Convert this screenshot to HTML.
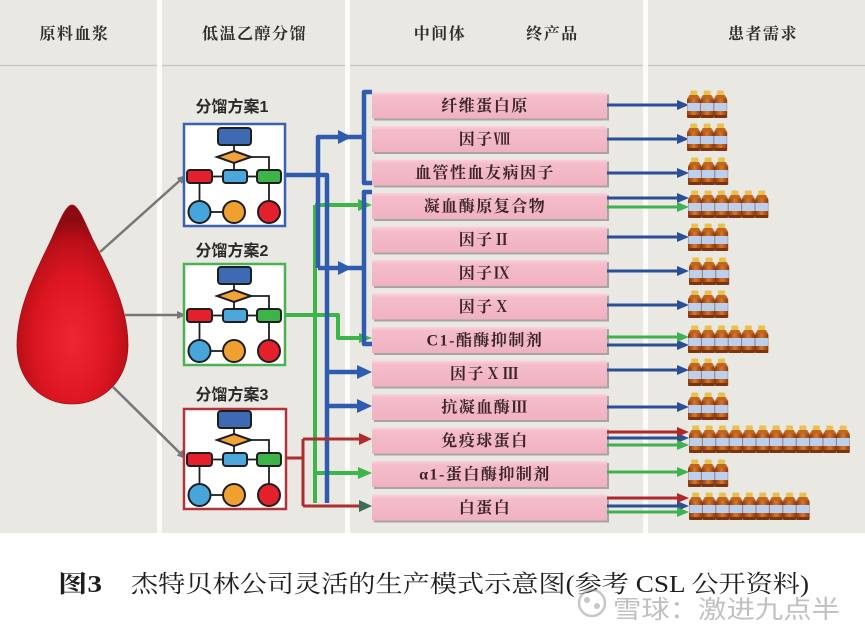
<!DOCTYPE html>
<html><head><meta charset="utf-8"><style>
html,body{margin:0;padding:0;background:#fff;}
svg{display:block;}
.hd{font-family:"Liberation Serif","Noto Serif CJK SC",serif;font-weight:700;font-size:16px;fill:#2e2e2e;letter-spacing:1.5px;}
.pk{font-family:"Liberation Serif","Noto Serif CJK SC",serif;font-weight:700;font-size:16px;fill:#3b2529;letter-spacing:1.5px;}
.lb{font-family:"Liberation Sans","Noto Sans CJK SC",sans-serif;font-weight:700;font-size:16px;fill:#2a2a2a;}
.cap{font-family:"Liberation Serif","Noto Serif CJK SC",serif;font-size:24px;fill:#1e1e1e;}
</style></head><body>
<svg width="865" height="630" viewBox="0 0 865 630" xmlns="http://www.w3.org/2000/svg">
<defs>
  <radialGradient id="drop" cx="0.5" cy="0.68" r="0.6">
    <stop offset="0" stop-color="#ee2633"/>
    <stop offset="0.55" stop-color="#dc1621"/>
    <stop offset="0.85" stop-color="#b80f18"/>
    <stop offset="1" stop-color="#8c0b12"/>
  </radialGradient>
  <linearGradient id="pkg" x1="0" y1="0" x2="0" y2="1">
    <stop offset="0" stop-color="#f9d3dc"/>
    <stop offset="0.15" stop-color="#f4bdca"/>
    <stop offset="1" stop-color="#f0b2c1"/>
  </linearGradient>
  <linearGradient id="bgr" x1="0" y1="0" x2="1" y2="0">
    <stop offset="0" stop-color="#8a3a10"/>
    <stop offset="0.5" stop-color="#d9782c"/>
    <stop offset="1" stop-color="#8a3a10"/>
  </linearGradient>
  <pattern id="bt" patternUnits="userSpaceOnUse" width="13.4" height="29">
    <rect x="3.2" y="0.5" width="7" height="5" rx="1" fill="#e8c050"/>
    <path d="M2.5,5 L10.9,5 L13.4,9 L0,9 Z" fill="#c0661e"/>
    <rect x="0" y="8.5" width="13.4" height="19.5" rx="2" fill="url(#bgr)"/>
    <rect x="0.3" y="13" width="12.8" height="8" fill="#bcd0ee"/>
    <rect x="0.3" y="25" width="12.8" height="3" fill="#7a3410"/>
  </pattern>
  <marker id="ga" markerUnits="userSpaceOnUse" markerWidth="10" markerHeight="10" refX="9" refY="5" orient="auto">
    <path d="M0,1 L9,5 L0,9 Z" fill="#777"/>
  </marker>
  <g id="fc">
    <g stroke="#1e1e1e" stroke-width="1.8" fill="none">
      <path d="M50,21 V27"/>
      <path d="M67,33 H85 V46"/>
      <path d="M50,39 V46"/>
      <path d="M28,52.5 H39"/>
      <path d="M63,52.5 H73"/>
      <path d="M15.5,59 V77"/>
      <path d="M85,59 V77"/>
      <path d="M26,88 H39"/>
    </g>
    <g stroke="#1e1e1e" stroke-width="2">
      <rect x="34" y="4" width="33" height="17" rx="3" fill="#3d6ab3"/>
      <polygon points="50,27 67,33 50,39 33,33" fill="#f2a33a"/>
      <rect x="3" y="46" width="25" height="13" rx="3" fill="#e3202c"/>
      <rect x="39" y="46" width="24" height="13" rx="3" fill="#4aa8dc"/>
      <rect x="73" y="46" width="24" height="13" rx="3" fill="#3cb44a"/>
      <circle cx="15.5" cy="88" r="11" fill="#46a6dc"/>
      <circle cx="50" cy="88" r="11" fill="#f0a030"/>
      <circle cx="85" cy="88" r="11" fill="#e3202c"/>
    </g>
  </g>
</defs>

<rect x="0" y="0" width="865" height="533" fill="#eae8e3"/>
<rect x="0" y="533" width="865" height="97" fill="#ffffff"/>
<line x1="0" y1="65.5" x2="865" y2="65.5" stroke="#c6c4bf" stroke-width="1.2"/>
<rect x="157" y="0" width="5" height="533" fill="#fbfbfa"/>
<rect x="345" y="0" width="5" height="533" fill="#fbfbfa"/>
<rect x="643" y="0" width="5" height="533" fill="#fbfbfa"/>

<text class="hd" x="74.5" y="39" text-anchor="middle">原料血浆</text>
<text class="hd" x="254.5" y="39" text-anchor="middle">低温乙醇分馏</text>
<text class="hd" x="440" y="39" text-anchor="middle">中间体</text>
<text class="hd" x="552.5" y="39" text-anchor="middle">终产品</text>
<text class="hd" x="763" y="39" text-anchor="middle">患者需求</text>

<path d="M72,205 C66,205 60,220 52,238 C38,268 17,305 17,345 C17,381 42,404 72,404 C102,404 128,381 128,345 C128,305 107,268 92,238 C84,220 78,205 72,205 Z" fill="url(#drop)" stroke="#a0101a" stroke-width="0.8"/>

<g stroke="#777" stroke-width="2.5" fill="none">
  <line x1="100" y1="252" x2="186" y2="175" marker-end="url(#ga)"/>
  <line x1="125" y1="315" x2="186" y2="315" marker-end="url(#ga)"/>
  <line x1="113" y1="387" x2="186" y2="459" marker-end="url(#ga)"/>
</g>

<text class="lb" x="232" y="112" text-anchor="middle">分馏方案1</text>
<rect x="184" y="124" width="101" height="102" fill="#ffffff" stroke="#3a62ad" stroke-width="2.5"/>
<use href="#fc" x="184" y="124"/>
<text class="lb" x="232" y="256" text-anchor="middle">分馏方案2</text>
<rect x="184" y="264" width="101" height="101" fill="#ffffff" stroke="#4cb054" stroke-width="2.5"/>
<use href="#fc" x="184" y="263"/>
<text class="lb" x="232" y="400" text-anchor="middle">分馏方案3</text>
<rect x="184" y="409" width="102" height="100" fill="#ffffff" stroke="#b0343a" stroke-width="2.5"/>
<use href="#fc" x="184" y="407"/>

<g stroke="#3db54a" stroke-width="4" fill="none" stroke-linejoin="round">
  <path d="M315,205 V503"/>
  <path d="M315,205 H360"/>
  <path d="M285,315 H338 V338 H360"/>
  <path d="M315,473 H360"/>
</g>
<circle cx="315" cy="315" r="3" fill="#3db54a"/>
<circle cx="362" cy="338" r="3" fill="#3db54a"/>
<g fill="#3db54a">
  <polygon points="358,199 372,205 358,211"/>
  <polygon points="359,333 372,338 359,343"/>
  <polygon points="358,467 372,473 358,479"/>
</g>

<g stroke="#2f5cae" stroke-width="4.5" fill="none" stroke-linejoin="round">
  <path d="M285,175 H327 V503"/>
  <path d="M318,268 V137 H364"/>
  <path d="M318,268 H364"/>
  <path d="M372,92 H364 V183 H372"/>
  <path d="M372,192 H364 V344 H372"/>
  <path d="M327,372 H360"/>
  <path d="M327,406 H360"/>
</g>
<g fill="#2f5cae">
  <polygon points="338,130 352,137 338,144"/>
  <polygon points="338,261 352,268 338,275"/>
  <polygon points="357,365 372,372 357,379"/>
  <polygon points="357,399 372,406 357,413"/>
</g>

<g stroke="#ad2e2e" stroke-width="3" fill="none" stroke-linejoin="round">
  <path d="M286,458 H303"/>
  <path d="M303,439 V506"/>
  <path d="M303,439 H361"/>
  <path d="M303,506 H361"/>
</g>
<polygon points="359,433 372,439 359,445" fill="#ad2e2e"/>
<polygon points="359,500 372,506 359,512" fill="#3f6a58"/>

<g>
  <g transform="translate(0,92.5)"><rect x="374" y="2" width="235" height="26" fill="#a9a3a3"/><rect x="372" y="0" width="235" height="26" fill="url(#pkg)"/></g>
  <g transform="translate(0,126)"><rect x="374" y="2" width="235" height="26" fill="#a9a3a3"/><rect x="372" y="0" width="235" height="26" fill="url(#pkg)"/></g>
  <g transform="translate(0,159.5)"><rect x="374" y="2" width="235" height="26" fill="#a9a3a3"/><rect x="372" y="0" width="235" height="26" fill="url(#pkg)"/></g>
  <g transform="translate(0,193)"><rect x="374" y="2" width="235" height="26" fill="#a9a3a3"/><rect x="372" y="0" width="235" height="26" fill="url(#pkg)"/></g>
  <g transform="translate(0,226.5)"><rect x="374" y="2" width="235" height="26" fill="#a9a3a3"/><rect x="372" y="0" width="235" height="26" fill="url(#pkg)"/></g>
  <g transform="translate(0,260)"><rect x="374" y="2" width="235" height="26" fill="#a9a3a3"/><rect x="372" y="0" width="235" height="26" fill="url(#pkg)"/></g>
  <g transform="translate(0,293.5)"><rect x="374" y="2" width="235" height="26" fill="#a9a3a3"/><rect x="372" y="0" width="235" height="26" fill="url(#pkg)"/></g>
  <g transform="translate(0,327)"><rect x="374" y="2" width="235" height="26" fill="#a9a3a3"/><rect x="372" y="0" width="235" height="26" fill="url(#pkg)"/></g>
  <g transform="translate(0,360.5)"><rect x="374" y="2" width="235" height="26" fill="#a9a3a3"/><rect x="372" y="0" width="235" height="26" fill="url(#pkg)"/></g>
  <g transform="translate(0,394)"><rect x="374" y="2" width="235" height="26" fill="#a9a3a3"/><rect x="372" y="0" width="235" height="26" fill="url(#pkg)"/></g>
  <g transform="translate(0,427.5)"><rect x="374" y="2" width="235" height="26" fill="#a9a3a3"/><rect x="372" y="0" width="235" height="26" fill="url(#pkg)"/></g>
  <g transform="translate(0,461)"><rect x="374" y="2" width="235" height="26" fill="#a9a3a3"/><rect x="372" y="0" width="235" height="26" fill="url(#pkg)"/></g>
  <g transform="translate(0,494.5)"><rect x="374" y="2" width="235" height="26" fill="#a9a3a3"/><rect x="372" y="0" width="235" height="26" fill="url(#pkg)"/></g>
</g>
<g text-anchor="middle">
  <text class="pk" x="485" y="111">纤维蛋白原</text>
  <text class="pk" x="485" y="144.5">因子Ⅷ</text>
  <text class="pk" x="485" y="178">血管性血友病因子</text>
  <text class="pk" x="485" y="211.5">凝血酶原复合物</text>
  <text class="pk" x="485" y="245">因子Ⅱ</text>
  <text class="pk" x="485" y="278.5">因子Ⅸ</text>
  <text class="pk" x="485" y="312">因子Ⅹ</text>
  <text class="pk" x="485" y="345.5">C1-酯酶抑制剂</text>
  <text class="pk" x="485" y="379">因子ⅩⅢ</text>
  <text class="pk" x="485" y="412.5">抗凝血酶Ⅲ</text>
  <text class="pk" x="485" y="446">免疫球蛋白</text>
  <text class="pk" x="485" y="479.5">α1-蛋白酶抑制剂</text>
  <text class="pk" x="485" y="513">白蛋白</text>
</g>

<g stroke-width="3" fill="none">
  <g stroke="#2b4f96">
    <path d="M607,105 H680"/><path d="M607,139 H680"/><path d="M607,173 H680"/>
    <path d="M607,198 H680"/><path d="M607,237 H680"/><path d="M607,271 H680"/>
    <path d="M607,305 H680"/><path d="M607,345 H680"/><path d="M607,370 H680"/>
    <path d="M607,407 H680"/><path d="M607,438 H680"/><path d="M607,506 H680"/>
  </g>
  <g stroke="#40b050">
    <path d="M607,207 H680"/><path d="M607,337 H680"/><path d="M607,445 H680"/>
    <path d="M607,472 H680"/><path d="M607,512 H680"/>
  </g>
  <g stroke="#b0282c">
    <path d="M607,432 H680"/><path d="M607,498 H680"/>
  </g>
</g>
<g fill="#2b4f96">
  <polygon points="677,100 689,105 677,110"/><polygon points="677,134 689,139 677,144"/>
  <polygon points="677,168 689,173 677,178"/><polygon points="677,193 689,198 677,203"/>
  <polygon points="677,232 689,237 677,242"/><polygon points="677,266 689,271 677,276"/>
  <polygon points="677,300 689,305 677,310"/><polygon points="677,340 689,345 677,350"/>
  <polygon points="677,365 689,370 677,375"/><polygon points="677,402 689,407 677,412"/>
  <polygon points="677,433 689,438 677,443"/><polygon points="677,501 689,506 677,511"/>
</g>
<g fill="#40b050">
  <polygon points="677,202 689,207 677,212"/><polygon points="677,332 689,337 677,342"/>
  <polygon points="677,440 689,445 677,450"/><polygon points="677,467 689,472 677,477"/>
  <polygon points="677,507 689,512 677,517"/>
</g>
<g fill="#b0282c">
  <polygon points="677,427 689,432 677,437"/><polygon points="677,493 689,498 677,503"/>
</g>

<g transform="translate(687,90)"><rect width="40.2" height="29" fill="url(#bt)"/></g>
<g transform="translate(687,123)"><rect width="40.2" height="29" fill="url(#bt)"/></g>
<g transform="translate(688,157)"><rect width="40.2" height="29" fill="url(#bt)"/></g>
<g transform="translate(688,190)"><rect width="80.4" height="29" fill="url(#bt)"/></g>
<g transform="translate(688,223)"><rect width="40.2" height="29" fill="url(#bt)"/></g>
<g transform="translate(689,257)"><rect width="40.2" height="29" fill="url(#bt)"/></g>
<g transform="translate(688,290)"><rect width="40.2" height="29" fill="url(#bt)"/></g>
<g transform="translate(688,325)"><rect width="80.4" height="29" fill="url(#bt)"/></g>
<g transform="translate(688,358)"><rect width="40.2" height="29" fill="url(#bt)"/></g>
<g transform="translate(688,392)"><rect width="40.2" height="29" fill="url(#bt)"/></g>
<g transform="translate(689,425)"><rect width="160.8" height="29" fill="url(#bt)"/></g>
<g transform="translate(688,459)"><rect width="40.2" height="29" fill="url(#bt)"/></g>
<g transform="translate(689,492)"><rect width="120.6" height="29" fill="url(#bt)"/></g>

<text class="cap" x="58" y="592" font-weight="700" textLength="44" lengthAdjust="spacingAndGlyphs">图3</text>
<text class="cap" x="131" y="592" textLength="678" lengthAdjust="spacingAndGlyphs">杰特贝林公司灵活的生产模式示意图(参考 CSL 公开资料)</text>

<g opacity="0.55">
  <circle cx="592" cy="603" r="13" fill="none" stroke="#9a9a9a" stroke-width="2.5"/>
  <circle cx="587" cy="600" r="3" fill="#9a9a9a"/>
  <circle cx="597" cy="606" r="3" fill="#9a9a9a"/>
  <text x="613" y="618" font-family="Liberation Sans, Noto Sans CJK SC, sans-serif" font-size="25" fill="#8e8e8e" textLength="227" lengthAdjust="spacingAndGlyphs">雪球：激进九点半</text>
</g>
</svg>
</body></html>
